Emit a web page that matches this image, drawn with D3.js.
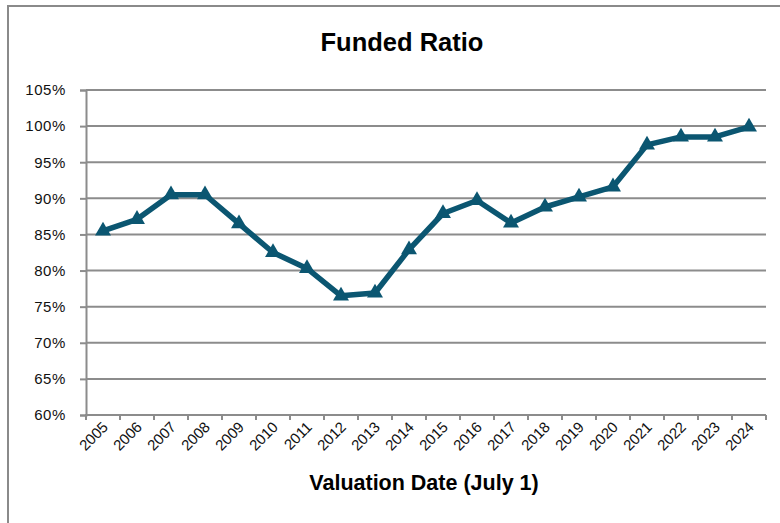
<!DOCTYPE html>
<html>
<head>
<meta charset="utf-8">
<script src="https://cdn.jsdelivr.net/npm/d3@7"></script>
<style>
  html, body { margin: 0; padding: 0; background: #fff; }
  svg { display: block; font-family: "Liberation Sans", Arial, sans-serif; }
</style>
</head>
<body>
<svg id="chart" width="780" height="523"></svg>
<script>
const years = ["2005","2006","2007","2008","2009","2010","2011","2012","2013","2014",
               "2015","2016","2017","2018","2019","2020","2021","2022","2023","2024"];
const fundedRatio = [85.5, 87.1, 90.5, 90.5, 86.5, 82.5, 80.3, 76.5, 76.9, 82.9,
                     87.9, 89.7, 86.6, 88.8, 90.2, 91.6, 97.4, 98.5, 98.5, 99.9];
const yTicks = [60, 65, 70, 75, 80, 85, 90, 95, 100, 105];
const title = "Funded Ratio";
const xTitle = "Valuation Date (July 1)";

const svg = d3.select("#chart");
const plotLeft = 86, plotRight = 766, plotTop = 90, plotBottom = 415;

// outer frame
svg.append("rect").attr("x", 8).attr("y", 6).attr("width", 800).attr("height", 600)
  .attr("fill", "none").attr("stroke", "#8a8a8a").attr("stroke-width", 2);

const x = d3.scaleBand().domain(years).range([plotLeft, plotRight]).paddingInner(0).paddingOuter(0);
const y = d3.scaleLinear().domain([60, 105]).range([plotBottom, plotTop]);

// gridlines
svg.append("g").selectAll("line").data(yTicks.filter(t => t > 60)).join("line")
  .attr("x1", plotLeft).attr("x2", plotRight)
  .attr("y1", d => y(d)).attr("y2", d => y(d))
  .attr("stroke", "#8c8c8c").attr("stroke-width", 2);

// y axis
const yAxis = d3.axisLeft(y).tickValues(yTicks).tickSize(6).tickPadding(14)
  .tickFormat(d => d + "%");
const gy = svg.append("g").attr("transform", `translate(${plotLeft},0)`).call(yAxis);
gy.select(".domain").attr("stroke", "#8c8c8c").attr("stroke-width", 2);
gy.selectAll(".tick line").attr("stroke", "#8c8c8c").attr("stroke-width", 2);
gy.selectAll(".tick text").attr("font-size", 15).attr("fill", "#111")
  .attr("font-family", "'Liberation Sans', Arial, sans-serif")
  .attr("letter-spacing", 0.6);

// x axis line
svg.append("line").attr("x1", plotLeft - 1).attr("x2", plotRight).attr("y1", plotBottom).attr("y2", plotBottom)
  .attr("stroke", "#8c8c8c").attr("stroke-width", 2);
// x ticks at category boundaries
const boundaries = years.map(d => x(d)).concat([plotRight]);
svg.append("g").selectAll("line").data(boundaries).join("line")
  .attr("x1", d => d).attr("x2", d => d)
  .attr("y1", plotBottom).attr("y2", plotBottom + 5)
  .attr("stroke", "#8c8c8c").attr("stroke-width", 2);

// x labels
svg.append("g").selectAll("text").data(years).join("text")
  .attr("transform", d => `translate(${x(d) + x.bandwidth() / 2 + 6},${plotBottom + 13}) rotate(-45)`)
  .attr("text-anchor", "end")
  .attr("font-size", 15)
  .attr("fill", "#111")
  .text(d => d);

// line
const cx = d => x(d) + x.bandwidth() / 2;
const data = years.map((yr, i) => ({ yr, v: fundedRatio[i] }));
svg.append("path").datum(data)
  .attr("fill", "none").attr("stroke", "#0b5671").attr("stroke-width", 5.5)
  .attr("stroke-linejoin", "round")
  .attr("d", d3.line().x(d => cx(d.yr)).y(d => y(d.v)));

// markers
svg.append("g").selectAll("path").data(data).join("path")
  .attr("transform", d => `translate(${cx(d.yr)},${y(d.v)})`)
  .attr("d", d3.symbol().type(d3.symbolTriangle).size(110))
  .attr("fill", "#0b5671");

// titles
svg.append("text").attr("x", 402).attr("y", 51).attr("text-anchor", "middle")
  .attr("font-size", 25.5).attr("font-weight", "bold").attr("fill", "#000").text(title);
svg.append("text").attr("x", 424).attr("y", 490).attr("text-anchor", "middle")
  .attr("font-size", 21.5).attr("font-weight", "bold").attr("fill", "#000").text(xTitle);
</script>
</body>
</html>
